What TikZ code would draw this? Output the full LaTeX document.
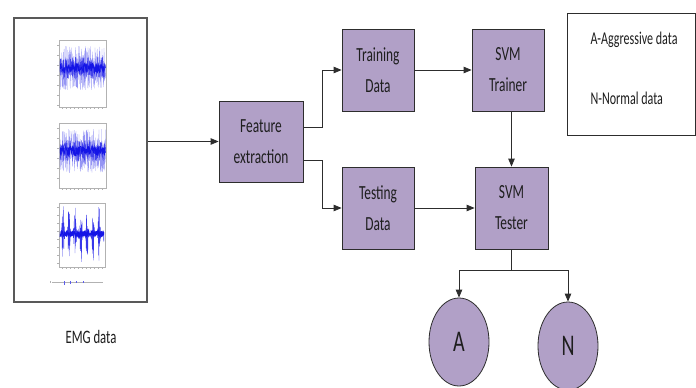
\documentclass[tikz,border=0pt]{standalone}
\usepackage{fontspec}
\setmainfont{Carlito}[FakeStretch=0.67]
\usetikzlibrary{arrows.meta,shapes.geometric}
\definecolor{boxfill}{RGB}{177,160,199}
\definecolor{edgecol}{RGB}{45,45,45}
\definecolor{txt}{RGB}{30,30,30}
\definecolor{sig}{RGB}{20,20,230}
\begin{document}
\begin{tikzpicture}[x=1pt,y=-1pt,
  procbox/.style={draw=edgecol, line width=0.8pt, fill=boxfill, text=txt,
    minimum width=72pt, minimum height=82pt, inner sep=0pt, align=center,
    font=\fontsize{20}{31}\selectfont},
  classnode/.style={ellipse, draw=edgecol, line width=0.8pt, fill=boxfill, text=txt,
    minimum width=60pt, minimum height=88pt, inner sep=0pt,
    font=\fontsize{30}{30}\selectfont},
  conn/.style={draw=edgecol, line width=0.8pt},
  arr/.style={conn, -{Triangle[length=8pt,width=6.5pt]}},
  axisln/.style={draw=gray!60, line width=0.3pt}
]
\useasboundingbox (0,0) rectangle (696,388);
\fill[white] (0,0) rectangle (696,388);

% EMG panel
\node[draw=gray!70!black, line width=1.2pt, minimum width=133pt, minimum height=284pt, inner sep=0pt] (emg) at (80.5,160) {};
\node[text=txt, font=\fontsize{19}{19}\selectfont] (emglabel) at (91,337) {EMG data};

% plot 1
\pgfmathsetseed{7}
\draw[axisln] (59,40) rectangle (106,107);
\foreach \t in {45,55,65,75,85,95,105} {\draw[axisln] (57,\t) -- (59,\t);}
\foreach \t in {62,66,70,74,78,82,86,90,94,98,102} {\draw[axisln] (\t,107) -- (\t,109);}
\draw[sig!45, line width=0.25pt] plot[domain=60:105.5, samples=260] (\x,{68+22*rand});
\draw[sig!80, line width=0.3pt] plot[domain=60:105.5, samples=300] (\x,{68+11*rand});
\draw[sig, line width=0.5pt] plot[domain=60:105.5, samples=200] (\x,{68+5*rand});

% plot 2
\draw[axisln] (59,123) rectangle (106,188);
\foreach \t in {128,138,148,158,168,178} {\draw[axisln] (57,\t) -- (59,\t);}
\foreach \t in {62,66,70,74,78,82,86,90,94,98,102} {\draw[axisln] (\t,188) -- (\t,190);}
\draw[sig!45, line width=0.25pt] plot[domain=60:105.5, samples=260] (\x,{151+22*rand});
\draw[sig!80, line width=0.3pt] plot[domain=60:105.5, samples=300] (\x,{151+11*rand});
\draw[sig, line width=0.5pt] plot[domain=60:105.5, samples=200] (\x,{151+5*rand});

% plot 3
\draw[axisln] (59,203) rectangle (105,267);
\foreach \t in {207,215,223,231,239,247,255,263} {\draw[axisln] (57,\t) -- (59,\t);}
\foreach \t in {62,66,70,74,78,82,86,90,94,98,102} {\draw[axisln] (\t,267) -- (\t,269);}
\draw[sig!85, line width=0.3pt] plot[domain=60:104, samples=400]
  (\x,{234+(3+27*abs(sin(deg((\x-60)*pi/6)))^6)*rand});
\draw[sig, line width=0.6pt] plot[domain=60:104, samples=200] (\x,{234+3*rand});

% bottom strip line
\draw[axisln] (52,282) -- (103,282);
\draw[axisln] (50,281) -- (50,283);
\draw[sig!70, line width=0.4pt] (64,281) -- (64,285) (70,281) -- (70,284) (76,281) -- (76,283) (83,281) -- (83,283);

% process boxes
\node[procbox, minimum width=84pt, minimum height=81pt] (fe) at (261,141.5) {Feature\\extraction};
\node[procbox] (train) at (378,70) {Training\\Data};
\node[procbox] (trainer) at (508,70) {SVM\\Trainer};
\node[procbox] (test) at (378,208) {Testing\\Data};
\node[procbox, minimum width=73pt] (tester) at (511.5,208) {SVM\\Tester};

% class nodes
\node[classnode] (A) at (459,342) {A};
\node[classnode] (N) at (568,346) {N};

% legend
\node[draw=edgecol, line width=0.8pt, minimum width=128pt, minimum height=122pt, inner sep=0pt] (legend) at (631,74) {};
\node[anchor=west, text=txt, font=\fontsize{18}{18}\selectfont] (legA) at (587,40) {A-Aggressive data};
\node[anchor=west, text=txt, font=\fontsize{18}{18}\selectfont] (legN) at (587,98) {N-Normal data};

% connectors
\draw[arr] (emg.east |- fe.west) -- (fe.west);
\draw[arr] ([yshift=14.5pt]fe.east) -- ++(19,0) |- (train.west);
\draw[arr] ([yshift=-18.5pt]fe.east) -- ++(19,0) |- (test.west);
\draw[arr] (train.east) -- (trainer.west);
\draw[arr] (test.east) -- (tester.west);
\draw[arr] (tester.north |- trainer.south) -- (tester.north);
\draw[conn] (tester.south) -- ++(0,21) coordinate (split);
\draw[arr] (split) -| (A.north);
\draw[arr] (split) -| (N.north);
\end{tikzpicture}
\end{document}
